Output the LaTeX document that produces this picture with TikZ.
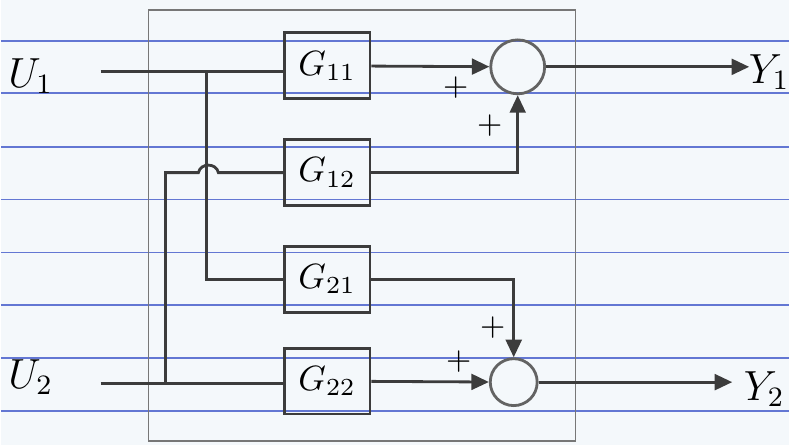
\documentclass[tikz,border=0pt]{standalone}
\usepackage{xcolor}
\usepackage{tikz}
\usetikzlibrary{positioning, arrows.meta, calc}
\definecolor{PaperBg}{RGB}{244,248,251}
\definecolor{RuleBlue}{RGB}{60,85,200}
\definecolor{Pencil}{RGB}{60,60,60}

\begin{document}
\begin{tikzpicture}[x=0.01cm, y=-0.01cm,
          blk/.style={rectangle, draw=Pencil, thick,
                      minimum width=0.86cm, minimum height=0.66cm,
                      inner sep=0pt, font=\normalsize},
          sum/.style={circle, draw=Pencil!80, thick, inner sep=0pt},
          wire/.style={Pencil, thick},
          arr/.style={-{Triangle[length=5pt, width=4.5pt]}, Pencil, thick},
          sgn/.style={font=\small, inner sep=0pt},
          lbl/.style={font=\large, inner sep=0pt}
        ]
        % paper and rules
        \fill[PaperBg] (0,0) rectangle (790,446);
        \foreach \ry in {41,93,147,200,253,306,359,412}
          \draw[RuleBlue!80, line width=0.5pt] (0,\ry) -- (790,\ry);
        \draw[Pencil!70, line width=0.4pt] (148,10) rectangle (576,442);

        \node[blk] (g11) at (327,66)  {$G_{11}$};
        \node[blk] (g12) at (327,173) {$G_{12}$};
        \node[blk] (g21) at (327,280) {$G_{21}$};
        \node[blk] (g22) at (327,382) {$G_{22}$};
        \node[sum, minimum size=0.54cm] (s1) at (518,67)  {};
        \node[sum, minimum size=0.47cm] (s2) at (514,383) {};

        \coordinate (u1) at (100,72);
        \coordinate (u2) at (100,384);
        \coordinate (b1) at (206,72);
        \coordinate (b2) at (165,384);
        \coordinate (y1) at (750,67);
        \coordinate (y2) at (733,383);
        \node[lbl] (lu1) at (30,76)  {$U_1$};
        \node[lbl] (lu2) at (30,378) {$U_2$};
        \node[lbl] (ly1) at (770,72) {$Y_1$};
        \node[lbl] (ly2) at (765,390) {$Y_2$};

        % inputs
        \draw[wire] (u1) -- (u1 -| g11.west);
        \draw[wire] (b1) |- (g21.west);
        \draw[wire] (u2) -- (u2 -| g22.west);
        \draw[wire] (b2) -- (165,173) -- (198,173)
              .. controls (200,163) and (216,163) .. (218,173)
              -- (g12.west);

        % outputs
        \draw[arr] (g11) -- (s1);
        \draw[arr] (g12.east) -| (s1.south);
        \draw[arr] (g21.east) -| (s2.north);
        \draw[arr] (g22) -- (s2);
        \draw[arr] (s1) -- (y1);
        \draw[arr] (s2) -- (y2);

        \node[sgn] (p11) at (456,88)  {$+$};
        \node[sgn] (p12) at (490,126) {$+$};
        \node[sgn] (p21) at (493,328) {$+$};
        \node[sgn] (p22) at (459,362) {$+$};
      \end{tikzpicture}
\end{document}
